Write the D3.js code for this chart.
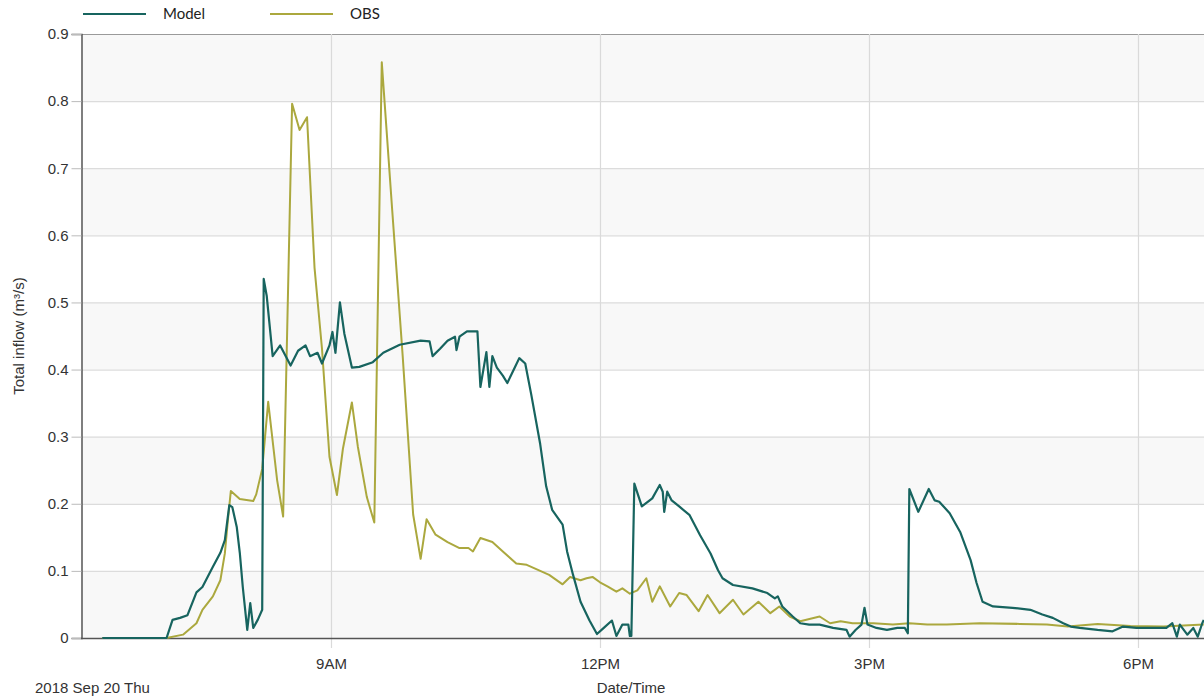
<!DOCTYPE html>
<html>
<head>
<meta charset="utf-8">
<script src="https://cdn.jsdelivr.net/npm/d3@7"></script>
<style>
  html, body { margin: 0; padding: 0; background: #ffffff; }
  svg { display: block; }
</style>
</head>
<body>
<svg id="chart" width="1204" height="698"></svg>
<script>
// ---- data ----
const dateLabel = "2018 Sep 20 Thu";
const seriesNames = ["Model", "OBS"];
const yTicks = [0, 0.1, 0.2, 0.3, 0.4, 0.5, 0.6, 0.7, 0.8, 0.9];
const xTickTimes = ["09:00", "12:00", "15:00", "18:00"];
const xTickLabels = ["9AM", "12PM", "3PM", "6PM"];
const xDomain = ["06:12:45", "18:44:10"];

const modelTimes = ["06:27","07:10","07:14","07:19","07:24","07:30","07:34","07:41","07:46","07:49","07:52","07:54","07:57","07:59","08:01","08:04","08:06","08:08","08:11","08:14","08:15","08:17","08:21","08:26","08:33","08:38","08:43","08:46","08:51","08:54","08:59","09:01","09:03","09:06","09:09","09:14","09:19","09:28","09:35","09:46","10:00","10:06","10:08","10:13","10:18","10:23","10:24","10:26","10:31","10:38","10:40","10:44","10:46","10:48","10:51","10:55","10:58","11:03","11:06","11:10","11:14","11:20","11:24","11:28","11:35","11:38","11:42","11:47","11:53","11:58","12:02","12:08","12:11","12:15","12:19","12:20","12:21","12:23","12:28","12:35","12:40","12:42","12:43","12:45","12:48","12:53","13:00","13:07","13:14","13:19","13:22","13:29","13:42","13:52","13:57","13:59","14:02","14:09","14:14","14:20","14:27","14:36","14:45","14:47","14:51","14:55","14:57","14:59","15:05","15:12","15:19","15:24","15:26","15:27","15:33","15:40","15:44","15:47","15:54","16:01","16:08","16:12","16:16","16:23","16:36","16:48","16:56","17:03","17:10","17:15","17:21","17:33","17:43","17:50","17:59","18:10","18:19","18:23","18:26","18:28","18:33","18:37","18:40","18:43","18:44"];
const modelValues = [0,0,0.027,0.030,0.034,0.068,0.076,0.106,0.127,0.146,0.198,0.195,0.165,0.127,0.076,0.012,0.052,0.015,0.027,0.042,0.535,0.510,0.420,0.436,0.406,0.428,0.436,0.420,0.425,0.409,0.436,0.456,0.425,0.500,0.453,0.403,0.404,0.411,0.425,0.437,0.443,0.442,0.420,0.431,0.443,0.449,0.429,0.449,0.457,0.457,0.374,0.426,0.374,0.420,0.403,0.391,0.380,0.403,0.417,0.409,0.363,0.289,0.226,0.191,0.169,0.129,0.094,0.054,0.026,0.006,0.014,0.026,0.003,0.020,0.020,0.003,0.003,0.230,0.196,0.208,0.228,0.218,0.188,0.218,0.205,0.196,0.183,0.153,0.126,0.101,0.089,0.079,0.074,0.067,0.059,0.062,0.047,0.032,0.022,0.020,0.020,0.015,0.012,0.002,0.012,0.020,0.045,0.020,0.015,0.012,0.015,0.015,0.007,0.222,0.188,0.222,0.205,0.203,0.186,0.158,0.116,0.082,0.054,0.047,0.045,0.042,0.035,0.030,0.022,0.017,0.015,0.012,0.010,0.017,0.015,0.015,0.015,0.022,0.002,0.020,0.005,0.015,0.002,0.022,0.027];

const obsTimes = ["06:27","07:10","07:21","07:30","07:34","07:41","07:46","07:49","07:51","07:53","07:59","08:08","08:10","08:14","08:18","08:24","08:28","08:34","08:39","08:44","08:49","08:54","08:59","09:04","09:08","09:14","09:18","09:24","09:29","09:34","09:41","09:48","09:55","10:00","10:04","10:10","10:18","10:26","10:32","10:35","10:40","10:48","10:55","11:04","11:11","11:20","11:26","11:35","11:40","11:47","11:51","11:55","12:00","12:05","12:11","12:15","12:20","12:25","12:31","12:35","12:40","12:47","12:53","12:58","13:06","13:12","13:20","13:29","13:36","13:46","13:54","14:00","14:07","14:14","14:27","14:34","14:41","14:49","15:03","15:16","15:27","15:39","15:52","16:14","16:41","16:59","17:13","17:33","17:55","18:17","18:44"];
const obsValues = [0,0,0.005,0.022,0.042,0.062,0.086,0.126,0.175,0.219,0.207,0.204,0.214,0.252,0.352,0.235,0.181,0.796,0.757,0.776,0.552,0.431,0.270,0.213,0.282,0.351,0.285,0.210,0.172,0.858,0.637,0.420,0.184,0.118,0.177,0.154,0.143,0.134,0.134,0.129,0.149,0.143,0.129,0.111,0.109,0.100,0.094,0.080,0.091,0.086,0.089,0.091,0.083,0.077,0.069,0.074,0.066,0.071,0.089,0.054,0.077,0.047,0.067,0.064,0.040,0.064,0.037,0.057,0.035,0.054,0.037,0.047,0.032,0.025,0.032,0.022,0.025,0.022,0.022,0.020,0.022,0.020,0.020,0.022,0.021,0.020,0.017,0.021,0.018,0.017,0.020];

const colors = { Model: "#17645f", OBS: "#aba83e" };

// ---- chart ----
const svg = d3.select("#chart");
const W = 1204, H = 698;
const margin = { left: 81, top: 34, right: 0, bottom: 60 };
const plotW = W - margin.left - margin.right;
const plotH = H - margin.top - margin.bottom;

const parseT = s => {
  const p = s.split(":").map(Number);
  return new Date(2018, 8, 20, p[0], p[1], p[2] || 0);
};

const x = d3.scaleTime().domain(xDomain.map(parseT)).range([margin.left, margin.left + plotW]);
const y = d3.scaleLinear().domain([0, 0.9]).range([margin.top + plotH, margin.top]);

const g = svg.append("g");

// alternating bands
const bandData = d3.range(0, yTicks.length - 1).filter(i => i % 2 === 0);
g.selectAll("rect.band").data(bandData).join("rect")
  .attr("class", "band")
  .attr("x", margin.left)
  .attr("width", plotW)
  .attr("y", i => y(yTicks[i + 1]))
  .attr("height", i => y(yTicks[i]) - y(yTicks[i + 1]))
  .attr("fill", "#f8f8f8");

// horizontal grid
g.selectAll("line.hgrid").data(yTicks).join("line")
  .attr("x1", margin.left).attr("x2", margin.left + plotW)
  .attr("y1", d => y(d) + 0.5).attr("y2", d => y(d) + 0.5)
  .attr("stroke", d => d === 0.9 ? "#9a9a9a" : "#dcdcdc")
  .attr("stroke-width", 1.2);

// vertical grid
const xTicks = xTickTimes.map(parseT);
g.selectAll("line.vgrid").data(xTicks).join("line")
  .attr("x1", d => Math.round(x(d)) + 0.5).attr("x2", d => Math.round(x(d)) + 0.5)
  .attr("y1", margin.top).attr("y2", margin.top + plotH + 10)
  .attr("stroke", "#dadada").attr("stroke-width", 1.2);

// y axis
const yAxis = d3.axisLeft(y).tickValues(yTicks).tickSize(10).tickPadding(3)
  .tickFormat(d => d === 0 ? "0" : d3.format(".1f")(d));
const yAx = svg.append("g").attr("transform", `translate(${margin.left + 0.5},0)`).call(yAxis);
yAx.select(".domain").attr("stroke", "#555").attr("stroke-width", 1.5);
yAx.selectAll(".tick line").attr("stroke", "#bbb");
yAx.selectAll(".tick text").attr("font-family", "Liberation Sans, Arial, sans-serif")
  .attr("font-size", 15).attr("fill", "#333");

// x axis labels
const xAxis = d3.axisBottom(x).tickValues(xTicks).tickSize(0).tickPadding(20)
  .tickFormat((d, i) => xTickLabels[i]);
const xAx = svg.append("g").attr("transform", `translate(0,${margin.top + plotH})`).call(xAxis);
xAx.select(".domain").remove();
xAx.selectAll(".tick text").attr("font-family", "Liberation Sans, Arial, sans-serif")
  .attr("font-size", 15).attr("fill", "#333");

// bottom axis line
svg.append("line")
  .attr("x1", margin.left).attr("x2", margin.left + plotW)
  .attr("y1", margin.top + plotH + 0.5).attr("y2", margin.top + plotH + 0.5)
  .attr("stroke", "#555").attr("stroke-width", 1.5);

// lines
const line = d3.line().x(d => x(d.t)).y(d => y(d.v));
const series = [
  { name: "OBS", data: obsTimes.map((t, i) => ({ t: parseT(t), v: obsValues[i] })) },
  { name: "Model", data: modelTimes.map((t, i) => ({ t: parseT(t), v: modelValues[i] })) }
];
svg.append("g").selectAll("path").data(series).join("path")
  .attr("d", d => line(d.data))
  .attr("fill", "none")
  .attr("stroke", d => colors[d.name])
  .attr("stroke-width", d => d.name === "Model" ? 2.2 : 2)
  .attr("stroke-linejoin", "round");

// titles
svg.append("text")
  .attr("transform", `translate(24,${margin.top + plotH / 2}) rotate(-90)`)
  .attr("text-anchor", "middle")
  .attr("font-family", "Liberation Sans, Arial, sans-serif")
  .attr("font-size", 15).attr("fill", "#333")
  .text("Total inflow (m³/s)");

svg.append("text")
  .attr("x", 631).attr("y", 693)
  .attr("text-anchor", "middle")
  .attr("font-family", "Liberation Sans, Arial, sans-serif")
  .attr("font-size", 15).attr("fill", "#333")
  .text("Date/Time");

svg.append("text")
  .attr("x", 35).attr("y", 693)
  .attr("font-family", "Liberation Sans, Arial, sans-serif")
  .attr("font-size", 15).attr("fill", "#333")
  .text(dateLabel);

// legend
const legendX = [83, 270];
const leg = svg.append("g").selectAll("g").data(seriesNames).join("g")
  .attr("transform", (d, i) => `translate(${legendX[i]},14)`);
leg.append("line").attr("x1", 0).attr("x2", 63).attr("y1", 0).attr("y2", 0)
  .attr("stroke", d => colors[d]).attr("stroke-width", 2.2);
leg.append("text").attr("x", 80).attr("y", 5)
  .attr("font-family", "Lato, 'Open Sans', sans-serif")
  .attr("font-size", 15).attr("fill", "#222")
  .text(d => d);
</script>
</body>
</html>
